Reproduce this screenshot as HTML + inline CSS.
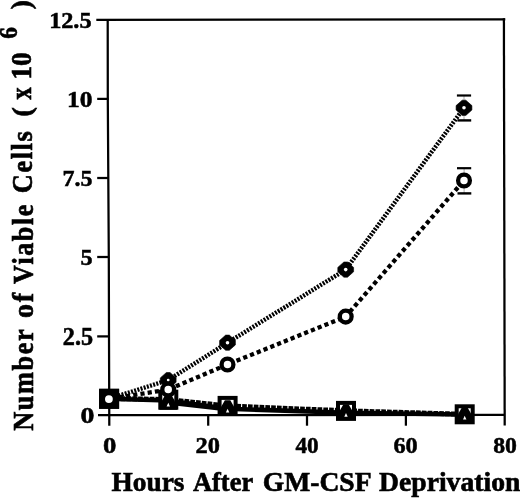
<!DOCTYPE html>
<html><head><meta charset="utf-8"><title>Chart</title>
<style>
html,body{margin:0;padding:0;background:#fff;}
svg{display:block;}
text{font-family:"Liberation Serif",serif;font-weight:bold;fill:#000;stroke:#000;stroke-width:2.2px;font-size:100px;}
</style></head><body>
<svg width="520" height="498" viewBox="0 0 520 498">
<rect width="520" height="498" fill="#fff"/>

<g stroke="#000" stroke-width="2.25" fill="none" stroke-linecap="butt">
<line x1="96.3" y1="19.8" x2="505.3" y2="19.4"/>
<polyline points="107.7,19 107.8,99 108.3,178 108.8,257 109.0,336 109.3,425.7"/>
<line x1="503.9" y1="18.3" x2="504.7" y2="425.6"/>
<line x1="98" y1="415.1" x2="505" y2="414.9"/>
<line x1="97.2" y1="98.9" x2="108.5" y2="98.9"/>
<line x1="97.2" y1="178" x2="108.5" y2="178"/>
<line x1="97.2" y1="257" x2="108.5" y2="257"/>
<line x1="97.2" y1="336.4" x2="108.5" y2="336.4"/>
<line x1="208.2" y1="415" x2="208.2" y2="425.7"/>
<line x1="307" y1="415" x2="307" y2="425.7"/>
<line x1="405.9" y1="415" x2="405.9" y2="425.7"/>
</g>
<text transform="matrix(0.2426 0 0 0.2310 49.13 27.80)">12.5</text>
<text transform="matrix(0.2550 0 0 0.2382 67.04 107.40)">10</text>
<text transform="matrix(0.2394 0 0 0.2413 62.45 186.27)">7.5</text>
<text transform="matrix(0.2416 0 0 0.2358 80.50 265.30)">5</text>
<text transform="matrix(0.2423 0 0 0.2453 62.80 344.76)">2.5</text>
<text transform="matrix(0.2783 0 0 0.2382 80.39 423.20)">0</text>
<text transform="matrix(0.2670 0 0 0.2367 102.93 453.10)">0</text>
<text transform="matrix(0.2442 0 0 0.2367 195.49 453.10)">20</text>
<text transform="matrix(0.2327 0 0 0.2367 295.41 453.10)">40</text>
<text transform="matrix(0.2429 0 0 0.2367 393.42 453.10)">60</text>
<text transform="matrix(0.2376 0 0 0.2367 493.13 453.10)">80</text>
<text transform="matrix(0.2734 0 0 0.2830 111.59 491.30)">Hours</text>
<text transform="matrix(0.2648 0 0 0.2830 192.93 491.30)">After</text>
<text transform="matrix(0.2761 0 0 0.2830 262.72 491.30)">GM-CSF</text>
<text transform="matrix(0.2766 0 0 0.2830 379.05 491.00)">Deprivation</text>
<text transform="matrix(0 -0.2630 0.2960 0 33.30 430.74)" letter-spacing="6">Number</text>
<text transform="matrix(0 -0.2807 0.2960 0 33.30 317.91)" letter-spacing="6">of</text>
<text transform="matrix(0 -0.2613 0.2960 0 32.80 284.07)" letter-spacing="6">Viable</text>
<text transform="matrix(0 -0.2638 0.2960 0 32.10 193.23)" letter-spacing="6">Cells</text>
<text transform="matrix(0 -0.2924 0.2693 0 31.01 116.79)">(</text>
<text transform="matrix(0 -0.2441 0.2884 0 31.28 99.55)">x</text>
<text transform="matrix(0 -0.2761 0.2956 0 31.18 79.80)">10</text>
<text transform="matrix(0 -0.2319 0.2500 0 17.18 38.76)">6</text>
<text transform="matrix(0 -0.2730 0.2711 0 30.21 9.32)">)</text>
<polyline points="109.1,398.8 168.3,400.5 227.6,408.8 346.0,412.7 464.7,414.5" fill="none" stroke="#000" stroke-width="4.6"/>
<line x1="168.3" y1="402.5" x2="227.6" y2="409.2" stroke="#000" stroke-width="4.6"/>
<polyline points="109.1,398.4 168.3,399.6 227.6,406.0 346.0,410.8 464.7,414.3" fill="none" stroke="#000" stroke-width="5" stroke-dasharray="4.7 1.1"/>
<polyline points="109.1,398.8 168.2,380.1 227.5,342.7 345.7,269.6 464.0,107.8" fill="none" stroke="#000" stroke-width="4.4" stroke-dasharray="2 1.3"/>
<polyline points="109.1,398.8 168.2,389.6 227.5,364.5 345.7,316.6 464.0,180.5" fill="none" stroke="#000" stroke-width="4.3" stroke-dasharray="4.2 3.1" stroke-dashoffset="4.8"/>
<g stroke="#000" fill="none"><line x1="464.0" y1="95.5" x2="464.0" y2="120.4" stroke="#aaa" stroke-width="1"/><line x1="456.9" y1="95.5" x2="471.1" y2="95.5" stroke-width="2.2"/><line x1="457.4" y1="120.4" x2="471.2" y2="120.4" stroke-width="2.4"/></g>
<g stroke="#000" fill="none"><line x1="464.1" y1="168.2" x2="464.1" y2="193.4" stroke="#aaa" stroke-width="1"/><line x1="457.0" y1="168.2" x2="471.2" y2="168.2" stroke-width="2.2"/><line x1="457.5" y1="193.4" x2="471.3" y2="193.4" stroke-width="2.4"/></g>
<rect x="101.1" y="390.8" width="16" height="16" fill="#fff" stroke="#000" stroke-width="4"/>
<rect x="160.3" y="391.7" width="16" height="16" fill="#fff" stroke="#000" stroke-width="4"/>
<rect x="219.6" y="397.9" width="16" height="16" fill="#fff" stroke="#000" stroke-width="4"/>
<rect x="338.0" y="402.9" width="16" height="16" fill="#fff" stroke="#000" stroke-width="4"/>
<rect x="456.7" y="406.3" width="16" height="16" fill="#fff" stroke="#000" stroke-width="4"/>
<polygon points="165.6,394.3 171.0,394.3 174.6,400.5 177.3,409.8 159.3,409.8 162.0,400.5" fill="#000"/>
<polygon points="168.3,402.8 170.0,406.5 166.6,406.5" fill="#fff"/>
<polygon points="224.9,400.3 230.3,400.3 233.9,406.5 236.6,415.8 218.6,415.8 221.3,406.5" fill="#000"/>
<polygon points="227.6,408.8 229.3,412.5 225.9,412.5" fill="#fff"/>
<polygon points="343.3,404.5 348.7,404.5 352.3,410.7 355.0,420.0 337.0,420.0 339.7,410.7" fill="#000"/>
<polygon points="346.0,413.0 347.7,416.7 344.3,416.7" fill="#fff"/>
<polygon points="462.0,407.3 467.4,407.3 471.0,413.5 473.7,422.8 455.7,422.8 458.4,413.5" fill="#000"/>
<polygon points="464.7,415.8 466.4,419.5 463.0,419.5" fill="#fff"/>
<polygon points="166.4,372.5 170.0,372.5 176.1,377.9 176.1,382.3 170.0,387.7 166.4,387.7 160.3,382.3 160.3,377.9" fill="#000" stroke="#000" stroke-width="0.6" stroke-linejoin="round"/>
<circle cx="168.2" cy="380.1" r="1.4" fill="#fff"/>
<polygon points="225.7,335.1 229.3,335.1 235.4,340.5 235.4,344.9 229.3,350.3 225.7,350.3 219.6,344.9 219.6,340.5" fill="#000" stroke="#000" stroke-width="0.6" stroke-linejoin="round"/>
<circle cx="227.5" cy="342.7" r="1.8" fill="#fff"/>
<polygon points="343.9,262.0 347.5,262.0 353.6,267.4 353.6,271.8 347.5,277.2 343.9,277.2 337.8,271.8 337.8,267.4" fill="#000" stroke="#000" stroke-width="0.6" stroke-linejoin="round"/>
<circle cx="345.7" cy="269.6" r="1.8" fill="#fff"/>
<polygon points="462.2,100.2 465.8,100.2 471.9,105.6 471.9,110.0 465.8,115.4 462.2,115.4 456.1,110.0 456.1,105.6" fill="#000" stroke="#000" stroke-width="0.6" stroke-linejoin="round"/>
<circle cx="464.0" cy="107.8" r="1.8" fill="#fff"/>
<circle cx="168.2" cy="389.6" r="5.9" fill="#fff" stroke="#000" stroke-width="4.3"/>
<circle cx="227.5" cy="364.5" r="5.9" fill="#fff" stroke="#000" stroke-width="4.3"/>
<circle cx="345.7" cy="316.6" r="5.9" fill="#fff" stroke="#000" stroke-width="4.3"/>
<circle cx="464.0" cy="180.5" r="5.9" fill="#fff" stroke="#000" stroke-width="4.3"/>
<rect x="99.1" y="388.8" width="20" height="20" fill="#000"/>
<circle cx="108.9" cy="399.1" r="3.9" fill="#fff"/>
</svg></body></html>
